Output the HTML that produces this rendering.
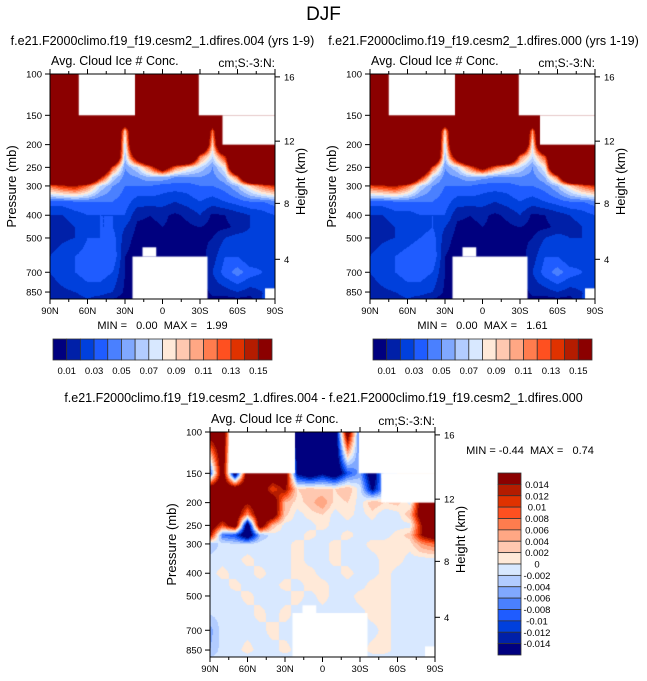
<!DOCTYPE html>
<html><head><meta charset="utf-8">
<style>
body{margin:0;background:#fff;}
#root{position:relative;width:647px;height:681px;overflow:hidden;background:#fff;font-family:"Liberation Sans",Arial,sans-serif;color:#000;}
.t{position:absolute;white-space:nowrap;}
canvas{position:absolute;}
svg{position:absolute;left:0;top:0;}
svg text{white-space:pre;}
</style></head>
<body>
<div id="root">
<div class="t" style="left:0;width:647px;text-align:center;top:4px;font-size:19px;">DJF</div>
<div class="t" style="left:0;width:325px;text-align:center;top:34px;font-size:12.5px;">f.e21.F2000climo.f19_f19.cesm2_1.dfires.004 (yrs 1-9)</div>
<div class="t" style="left:320px;width:327px;text-align:center;top:34px;font-size:12.5px;">f.e21.F2000climo.f19_f19.cesm2_1.dfires.000 (yrs 1-19)</div>
<div class="t" style="left:0;width:647px;text-align:center;top:391px;font-size:12.5px;">f.e21.F2000climo.f19_f19.cesm2_1.dfires.004 - f.e21.F2000climo.f19_f19.cesm2_1.dfires.000</div>
<svg id="svg" width="647" height="681"></svg>
</div>
<script>
const levels=[100,150,175,200,225,250,275,300,350,400,450,500,600,700,850,910];
const lats=[90,80,70,60,50,40,30,20,10,0,-10,-20,-30,-40,-50,-60,-70,-80,-90];
const fieldA=[
[.3,.3,.3,.3,.3,.3,.3,.3,.3,.3,.3,.3,.3,.3,.3,.3,.3,.3,.3],
[.3,.3,.3,.3,.3,.3,.3,.3,.3,.3,.3,.3,.3,.3,.3,.3,.3,.3,.3],
[.3,.3,.3,.3,.3,.3,.09,.3,.3,.3,.3,.3,.3,.12,.3,.3,.3,.3,.3],
[.3,.3,.3,.3,.3,.3,.07,.3,.3,.3,.3,.3,.3,.09,.3,.3,.3,.3,.3],
[.3,.3,.3,.3,.3,.3,.06,.2,.3,.3,.3,.3,.12,.07,.14,.3,.3,.3,.3],
[.3,.3,.3,.3,.3,.13,.05,.07,.12,.2,.12,.09,.07,.05,.08,.3,.3,.3,.3],
[.3,.3,.3,.3,.16,.07,.045,.05,.06,.06,.05,.05,.05,.045,.06,.12,.3,.3,.3],
[.12,.14,.15,.12,.07,.05,.04,.04,.04,.035,.035,.035,.04,.04,.045,.06,.09,.12,.14],
[.035,.035,.04,.04,.04,.04,.035,.025,.025,.025,.02,.025,.03,.025,.03,.035,.04,.04,.045],
[.02,.02,.025,.03,.03,.03,.03,.012,.01,.012,.008,.012,.02,.008,.01,.015,.02,.025,.03],
[.015,.015,.02,.025,.03,.03,.02,.008,.008,.01,.008,.008,.01,.006,.008,.012,.02,.02,.02],
[.015,.018,.02,.03,.03,.035,.015,.006,.008,.006,.005,.006,.008,.01,.02,.025,.025,.02,.025],
[.02,.025,.03,.035,.04,.04,.01,.005,.005,.005,.005,.005,.006,.015,.03,.03,.02,.025,.03],
[.02,.025,.03,.035,.035,.03,.01,.005,.005,.005,.005,.005,.006,.02,.035,.045,.035,.03,.03],
[.015,.018,.02,.025,.025,.02,.008,.005,.005,.005,.005,.005,.005,.012,.015,.02,.015,.02,.025],
[.012,.012,.015,.02,.015,.01,.005,.005,.005,.005,.005,.005,.005,.008,.006,.008,.006,.02,.02]];
const fieldB=[
[.3,.3,.3,.3,.3,.3,.3,.3,.3,.3,.3,.3,.3,.3,.3,.3,.3,.3,.3],
[.3,.3,.3,.3,.3,.3,.3,.3,.3,.3,.3,.3,.3,.3,.3,.3,.3,.3,.3],
[.3,.3,.3,.3,.3,.3,.09,.3,.3,.3,.3,.3,.3,.11,.3,.3,.3,.3,.3],
[.3,.3,.3,.3,.3,.3,.07,.3,.3,.3,.3,.3,.3,.08,.3,.3,.3,.3,.3],
[.3,.3,.3,.3,.3,.3,.06,.2,.3,.3,.3,.3,.12,.07,.13,.3,.3,.3,.3],
[.3,.3,.3,.3,.3,.13,.05,.07,.12,.18,.12,.09,.07,.05,.08,.3,.3,.3,.3],
[.3,.3,.3,.3,.16,.07,.045,.05,.06,.055,.05,.05,.05,.045,.06,.12,.3,.3,.3],
[.13,.14,.15,.12,.07,.05,.04,.04,.04,.035,.035,.035,.04,.04,.045,.06,.09,.12,.14],
[.035,.035,.04,.04,.04,.04,.035,.025,.025,.025,.02,.025,.03,.025,.03,.035,.04,.04,.045],
[.02,.02,.025,.025,.03,.03,.03,.012,.01,.012,.008,.012,.02,.008,.01,.015,.02,.025,.03],
[.015,.015,.02,.025,.025,.03,.02,.008,.008,.01,.008,.008,.01,.006,.008,.012,.015,.02,.02],
[.015,.018,.02,.025,.03,.035,.015,.006,.008,.006,.005,.006,.008,.01,.02,.025,.02,.02,.025],
[.02,.025,.03,.035,.04,.04,.01,.005,.005,.005,.005,.005,.006,.015,.03,.03,.02,.025,.03],
[.02,.025,.03,.035,.035,.03,.01,.005,.005,.005,.005,.005,.006,.02,.035,.045,.035,.03,.03],
[.015,.018,.02,.025,.025,.02,.008,.005,.005,.005,.005,.005,.005,.012,.015,.02,.015,.02,.025],
[.012,.012,.015,.02,.015,.01,.005,.005,.005,.005,.005,.005,.005,.008,.006,.008,.006,.02,.02]];
const fieldD=[
[.02,.02,-.01,0,0,0,0,-.02,-.02,-.02,-.02,.02,-.01,0,0,0,0,0,0],
[-.01,.02,-.02,.02,.02,.02,.02,-.015,-.02,-.015,-.02,-.01,-.005,-.02,0,0,0,0,0],
[.02,.02,.02,.02,.02,.01,.015,.002,.003,.002,.002,.004,-.001,-.015,-.004,0,0,0,0],
[.02,.02,.02,.015,.02,.02,.004,.001,.003,.006,.001,.002,-.001,.004,.002,.003,-.001,.02,.02],
[.02,.02,.02,.006,.02,.02,.003,-.001,.001,.002,-.001,.001,-.001,.001,-.002,-.001,.004,.02,.02],
[.02,.01,.02,-.02,.02,.004,-.001,-.001,-.001,.001,-.001,-.001,-.001,-.001,-.002,-.001,-.001,.015,.02],
[.015,-.008,-.01,-.02,-.004,-.001,-.001,-.001,.001,-.001,-.001,.001,-.001,-.001,-.001,.001,.003,.015,.02],
[-.004,-.001,-.002,-.002,-.001,-.001,-.001,.001,-.001,-.001,.001,-.001,-.001,.001,.001,.001,.001,.006,.008],
[-.001,-.001,-.001,.001,-.001,-.001,-.001,.001,-.001,-.001,.001,-.001,-.001,-.001,.001,.001,-.001,-.001,-.001],
[-.001,.001,-.001,-.001,.001,-.001,-.001,.001,.001,-.001,-.001,.001,-.001,-.001,.001,-.001,-.001,-.001,-.001],
[-.001,-.001,.001,-.001,-.001,-.001,.001,-.001,.001,.001,-.001,-.001,-.001,.001,.001,-.001,-.001,-.001,-.001],
[-.001,-.001,-.001,.001,-.001,-.001,-.001,.001,-.001,.001,-.001,-.001,.001,.001,.001,-.001,-.001,-.001,-.001],
[-.002,-.001,-.001,-.001,.001,-.001,.001,-.001,-.001,-.001,-.001,-.001,-.001,.001,.001,-.001,-.001,-.001,-.001],
[-.005,-.001,-.001,-.001,-.001,.001,-.001,-.001,-.001,-.001,-.001,-.001,-.001,-.001,.001,-.001,-.001,-.001,-.002],
[-.004,-.001,-.001,.001,-.001,-.001,.001,-.001,-.001,-.001,-.001,-.001,-.001,.001,.001,-.001,-.001,-.001,-.001],
[-.002,-.001,-.001,-.001,-.001,-.001,-.001,-.001,-.001,-.001,-.001,-.001,-.001,-.001,-.001,-.001,-.001,-.001,-.001]];
// missing-data regions [lat1, lat2, p1, p2]
const maskA=[[67,22,100,150],[-29,-90,100,150],[-48,-90,150,200],[24,-36,600,1000],[16,5,548,600],[-82,-90,820,1000]];
const maskB=[[75,22,100,150],[-29,-90,100,150],[-46,-90,150,200],[24,-36,600,1000],[16,5,548,600],[-82,-90,820,1000]];
const maskD=[[75,22,100,150],[-29,-90,100,150],[-47,-90,150,200],[24,-36,591,1000],[16,5,548,591],[-82,-90,820,1000]];
const seqLevels=[.01,.02,.03,.04,.05,.06,.07,.08,.09,.10,.11,.12,.13,.14,.15];
const seqLabels=["0.01","0.03","0.05","0.07","0.09","0.11","0.13","0.15"];
const diffLevels=[-.014,-.012,-.01,-.008,-.006,-.004,-.002,0,.002,.004,.006,.008,.01,.012,.014];
const diffLabels=["-0.014","-0.012","-0.01","-0.008","-0.006","-0.004","-0.002","0","0.002","0.004","0.006","0.008","0.01","0.012","0.014"];
const pTicks=[100,150,200,250,300,400,500,700,850];
const kmTicks=[4,8,12,16];
const latTicks=[90,60,30,0,-30,-60,-90];
const latLabels=["90N","60N","30N","0","30S","60S","90S"];
const palette=["#00007f","#0020a8","#0040dc","#1f5cff","#4a80ff","#80a8ff","#b2ccff","#d8e8ff","#ffe9d8","#ffc8b0","#ffa784","#ff7c4e","#ff5020","#e03200","#b41c00","#8b0000"];

const NS="http://www.w3.org/2000/svg";
const svg=document.getElementById('svg');
const root=document.getElementById('root');
function mk(tag,attrs,parent){const e=document.createElementNS(NS,tag);for(const k in attrs)e.setAttribute(k,attrs[k]);(parent||svg).appendChild(e);return e;}
function txt(s,x,y,size,anchor,parent){const e=mk('text',{x:x,y:y,'font-size':size,'text-anchor':anchor||'middle','font-family':'Liberation Sans, Arial, sans-serif'},parent);e.textContent=s;return e;}
const PW=225,PH=225,DEC=234.6;
function colorIdx(v,lv){let i=0;while(i<lv.length&&v>=lv[i])i++;return i;}
function kmToP(z){z*=1000;if(z<=11000)return 1013.25*Math.pow(1-2.25577e-5*z,5.25588);return 226.32*Math.exp(-(z-11000)/6341.6);}

function panel(px,py,field,mask,lv,name,minmax){
  const xS=lat=>px+(90-lat)/180*PW;
  const yS=p=>py+(Math.log10(p)-2)*DEC;
  const g=mk('g',{});
  
  
  const cv=document.createElement('canvas');
  cv.width=PW;cv.height=PH;cv.style.left=px+'px';cv.style.top=py+'px';
  
  
  root.insertBefore(cv,svg);
  const ctx=cv.getContext('2d');
  const lp=levels.map(p=>Math.log10(p));
  for(let j=0;j<PH;j++){
    const l=2+(j+0.5)/DEC;
    let r=0;while(r<levels.length-2&&l>lp[r+1])r++;
    let fr=(l-lp[r])/(lp[r+1]-lp[r]);fr=Math.max(0,Math.min(1,fr));
    for(let i=0;i<PW;i++){
      const lat=90-(i+0.5)/PW*180;
      let c=Math.floor((90-lat)/10);if(c>17)c=17;
      const fc=((90-lat)-c*10)/10;
      const v=(1-fr)*((1-fc)*field[r][c]+fc*field[r][c+1])+fr*((1-fc)*field[r+1][c]+fc*field[r+1][c+1]);
      ctx.fillStyle=palette[colorIdx(v,lv)];
      ctx.fillRect(i,j,1,1);
    }
  }
  ctx.fillStyle="#fff";
  mask.forEach(m=>{const x1=xS(m[0])-px,x2=xS(m[1])-px,y1=yS(m[2])-py,y2=yS(m[3])-py;ctx.fillRect(x1,y1,x2-x1,y2-y1);});
  const fr=mk('rect',{x:px,y:py,width:PW,height:PH,fill:'none',stroke:'#000','stroke-width':1},g);
  
  
  pTicks.forEach(p=>{const y=yS(p);mk('line',{x1:px-5,x2:px,y1:y,y2:y,stroke:'#000'},g);
    const t=txt(String(p),px-8,y+3.5,9.5,'end',g);
    
    });
  kmTicks.forEach(k=>{const y=yS(kmToP(k));mk('line',{x1:px+PW,x2:px+PW+5,y1:y,y2:y,stroke:'#000'},g);
    const t=txt(String(k),px+PW+9,y+3.5,9.5,'start',g);
    
    });
  for(let lat=90;lat>=-90;lat-=15){const x=xS(lat);const mj=lat%30===0;
    mk('line',{x1:x,x2:x,y1:py+PH,y2:py+PH+(mj?5:3),stroke:'#000'},g);
    mk('line',{x1:x,x2:x,y1:py,y2:py-(mj?5:3),stroke:'#000'},g);}
  latTicks.forEach((lat,i)=>{const t=txt(latLabels[i],xS(lat),py+PH+15,9.5,'middle',g);
    
    });
  const yl=txt('Pressure (mb)',0,0,13,'middle',g);yl.setAttribute('transform',`translate(${px-34},${py+PH/2}) rotate(-90)`);
  
  
  const hl=txt('Height (km)',0,0,13,'middle',g);hl.setAttribute('transform',`translate(${px+PW+30},${py+PH/2-5}) rotate(-90)`);
  
  
  const a=txt('Avg. Cloud Ice # Conc.',px+1,py-9,12.5,'start',g);
  
  
  const u=txt('cm;S:-3:N:',px+PW,py-7,12,'end',g);
  
  
  if(minmax){const m=txt(minmax,px+PW/2,py+PH+30,11,'middle',g);
    
    }
}
panel(50,74,fieldA,maskA,seqLevels,'panel-dfires-004','MIN =   0.00  MAX =   1.99');
panel(370,74,fieldB,maskB,seqLevels,'panel-dfires-000','MIN =   0.00  MAX =   1.61');
panel(210,432,fieldD,maskD,diffLevels,'panel-difference',null);
const mm=txt('MIN = -0.44  MAX =   0.74',530,454,11,'middle');



function hbar(x0,y0,name){
  const g=mk('g',{});
  
  
  const w=219/palette.length;
  palette.forEach((c,i)=>{const r=mk('rect',{x:x0+i*w,y:y0,width:w,height:21,fill:c,stroke:'#333','stroke-width':0.8},g);
    
    });
  seqLabels.forEach((s,k)=>{const t=txt(s,x0+(2*k+1)*w,y0+35,9.5,'middle',g);
    
    });
}
hbar(53,339,'colorbar-left');
hbar(373,339,'colorbar-right');
(function(){
  const g=mk('g',{});
  
  
  const x0=498,y0=473,h=182/palette.length;
  for(let i=0;i<palette.length;i++){const c=palette[palette.length-1-i];
    const r=mk('rect',{x:x0,y:y0+i*h,width:23,height:h,fill:c,stroke:'#333','stroke-width':0.8},g);
    
    }
  for(let k=1;k<=15;k++){const t=txt(diffLabels[15-k],537,y0+k*h+3.5,9.5,'middle',g);
    
    }
})();
</script>
</body></html>
